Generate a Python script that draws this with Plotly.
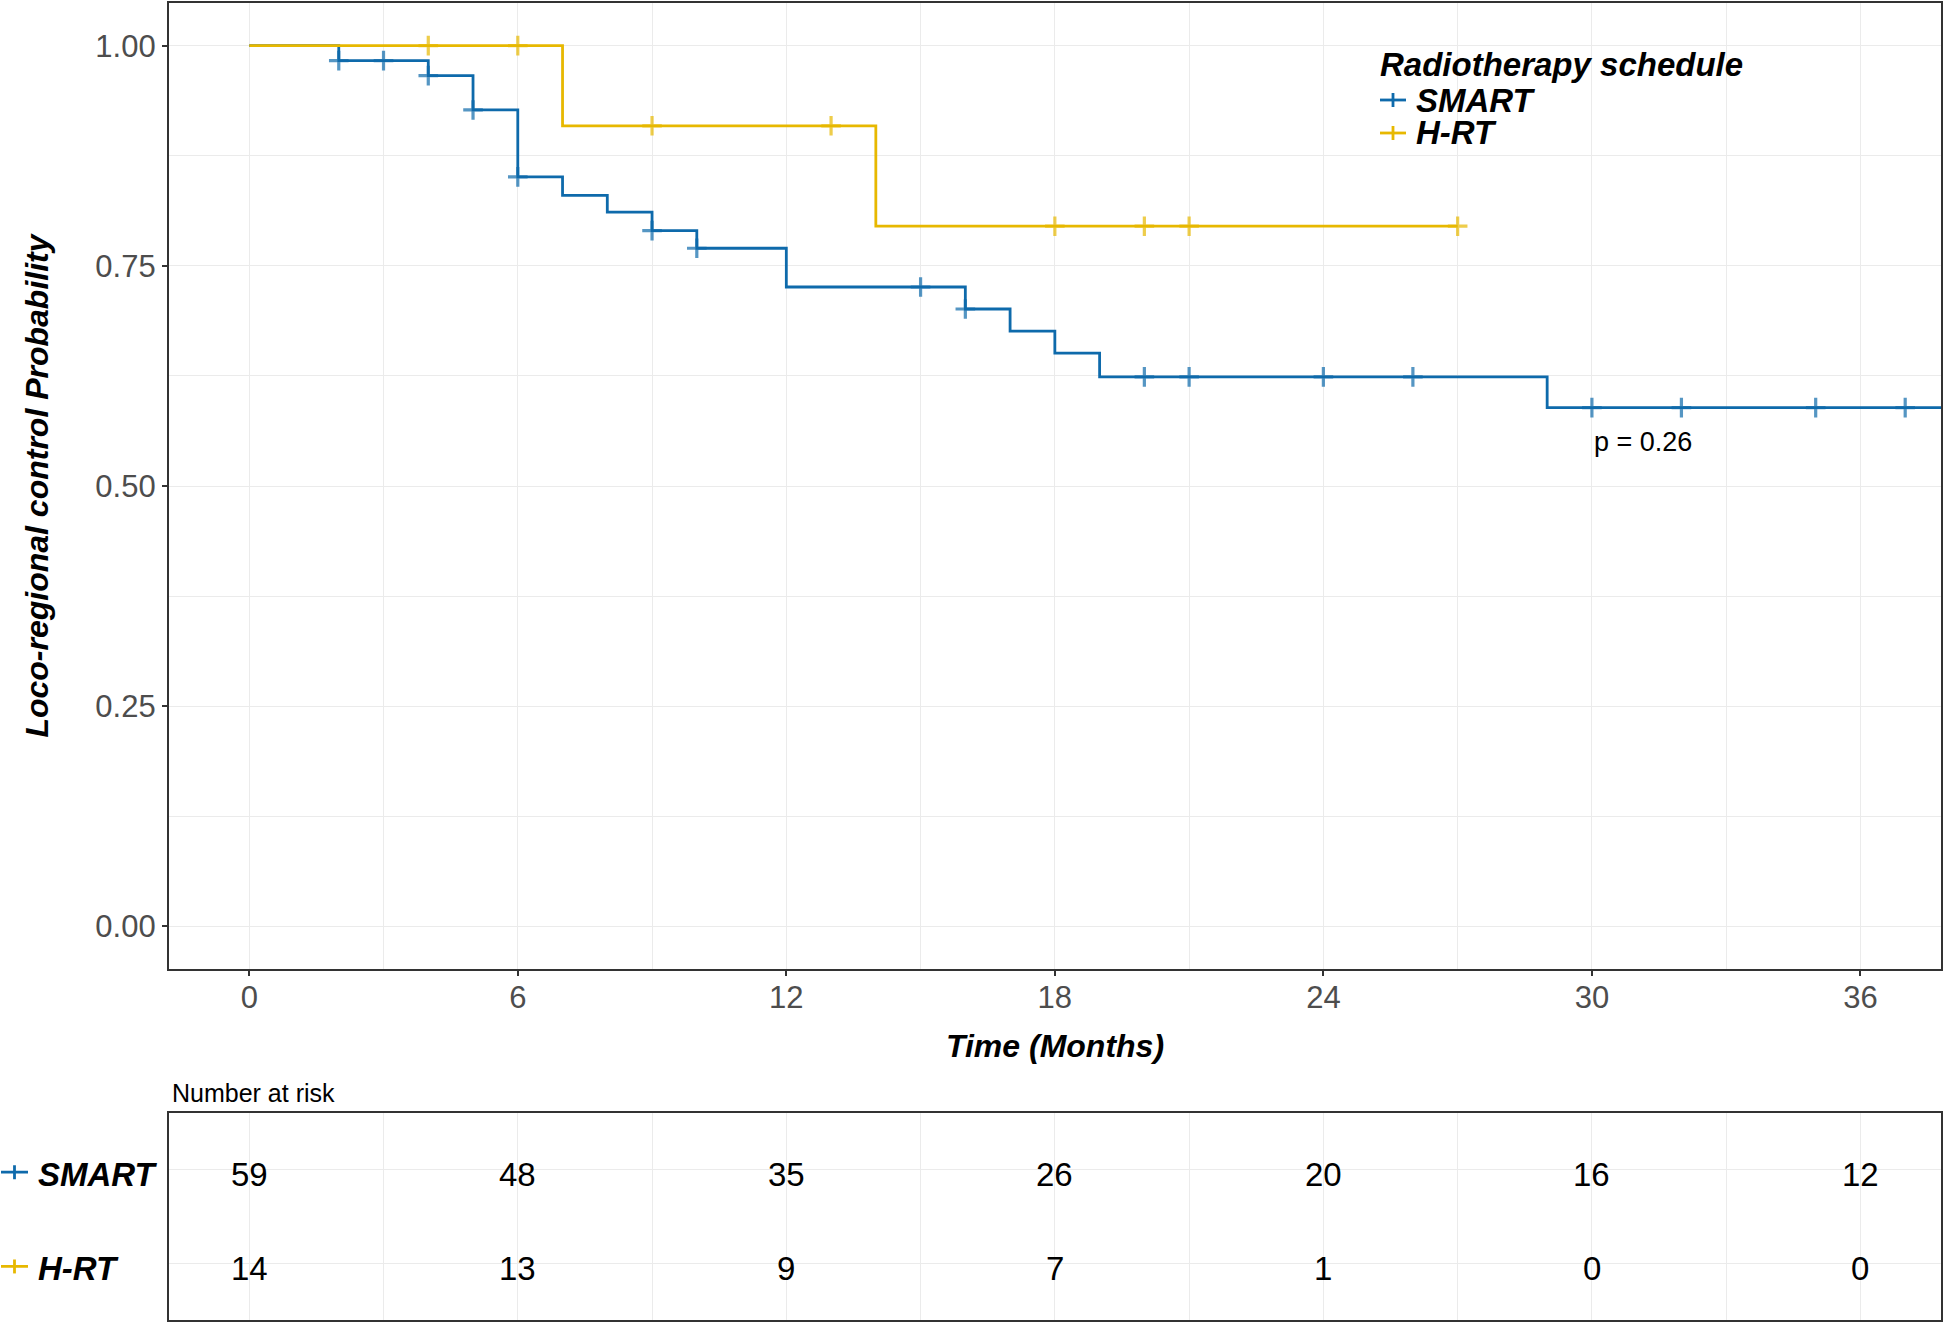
import plotly.graph_objects as go

# ---------------- data ----------------
groups = ["SMART", "H-RT"]
colors = {"SMART": "#0E6AAB", "H-RT": "#E7B800"}
legend_title = "Radiotherapy schedule"

# Kaplan-Meier steps: time (months), survival, censored flag (1 = censor mark)
smart_time = [0, 2, 3, 4, 5, 6, 7, 8, 9, 10, 12, 15, 16, 17, 18, 19, 20, 21, 24, 26, 29, 30, 32, 35, 37, 39]
smart_surv = [1.0, 0.983, 0.983, 0.966, 0.927, 0.851, 0.830, 0.811, 0.790, 0.770, 0.726, 0.726, 0.701,
              0.676, 0.651, 0.624, 0.624, 0.624, 0.624, 0.624, 0.589, 0.589, 0.589, 0.589, 0.589, 0.589]
smart_cens = [0, 1, 1, 1, 1, 1, 0, 0, 1, 1, 0, 1, 1, 0, 0, 0, 1, 1, 1, 1, 0, 1, 1, 1, 1, 1]

hrt_time = [0, 4, 6, 7, 9, 13, 14, 18, 20, 21, 27]
hrt_surv = [1.0, 1.0, 1.0, 0.909, 0.909, 0.909, 0.795, 0.795, 0.795, 0.795, 0.795]
hrt_cens = [0, 1, 1, 0, 1, 1, 0, 1, 1, 1, 1]

risk_times = [0, 6, 12, 18, 24, 30, 36]
smart_risk = [59, 48, 35, 26, 20, 16, 12]
hrt_risk = [14, 13, 9, 7, 1, 0, 0]

x_ticks = [0, 6, 12, 18, 24, 30, 36]
y_ticks = [0.0, 0.25, 0.5, 0.75, 1.0]
y_tick_labels = ["0.00", "0.25", "0.50", "0.75", "1.00"]
p_value_text = "p = 0.26"

# ---------------- figure ----------------
W, H = 1945, 1323
FONT = "Liberation Sans, Arial, sans-serif"
GRID = "#EBEBEB"
BORDER = "#333333"

fig = go.Figure()

series = [
    ("SMART", smart_time, smart_surv, smart_cens),
    ("H-RT", hrt_time, hrt_surv, hrt_cens),
]
for name, t, s, c in series:
    fig.add_trace(go.Scatter(
        x=t, y=s, mode="lines+markers", name=name,
        line=dict(color=colors[name], width=2.8, shape="hv"),
        marker=dict(symbol="cross-thin", size=[14 if v else 0 for v in c],
                    line=dict(color=colors[name], width=3.2)),
        xaxis="x", yaxis="y", showlegend=False, cliponaxis=True,
    ))

# invisible anchor trace so the risk-table axes exist
row_y = {"SMART": 2, "H-RT": 1}
fig.add_trace(go.Scatter(x=risk_times, y=[row_y["SMART"]] * len(risk_times), mode="markers",
                         marker=dict(opacity=0), xaxis="x2", yaxis="y2", showlegend=False,
                         hoverinfo="skip"))

# layout geometry (paper fractions)
x_left, x_right = 168.7 / W, 1941 / W
main_top, main_bot = 1 - 2.5 / H, 1 - 968.7 / H
risk_top, risk_bot = 1 - 1112.6 / H, 1 - 1320 / H

common_x = dict(
    range=[-1.8, 37.8], domain=[x_left, x_right], tickmode="array", tickvals=x_ticks,
    showgrid=True, gridcolor=GRID, gridwidth=1.3,
    minor=dict(dtick=3, tick0=0, showgrid=True, gridcolor=GRID, gridwidth=1.0),
    showline=True, mirror=True, linecolor=BORDER, linewidth=1.6,
    zeroline=False, automargin=False, fixedrange=True,
)

fig.update_layout(
    width=W, height=H,
    margin=dict(l=0, r=0, t=0, b=0),
    paper_bgcolor="white", plot_bgcolor="white",
    font=dict(family=FONT, color="black"),
    showlegend=False,
    xaxis=dict(**common_x, anchor="y", ticks="outside", ticklen=5, tickwidth=1.5, tickcolor=BORDER,
               ticklabelstandoff=-5,
               tickfont=dict(family=FONT, size=31, color="#4D4D4D"), ticktext=[str(v) for v in x_ticks]),
    yaxis=dict(range=[-0.048, 1.049], domain=[main_bot, main_top], anchor="x",
               tickmode="array", tickvals=y_ticks, ticktext=y_tick_labels,
               ticks="outside", ticklen=5, tickwidth=1.5, tickcolor=BORDER,
               tickfont=dict(family=FONT, size=31, color="#4D4D4D"),
               showgrid=True, gridcolor=GRID, gridwidth=1.3,
               minor=dict(dtick=0.125, tick0=0, showgrid=True, gridcolor=GRID, gridwidth=1.0),
               showline=True, mirror=True, linecolor=BORDER, linewidth=1.6,
               zeroline=False, automargin=False, fixedrange=True),
    xaxis2=dict(**common_x, anchor="y2", showticklabels=False, ticks=""),
    yaxis2=dict(range=[0.4, 2.6], domain=[risk_bot, risk_top], anchor="x2",
                tickmode="array", tickvals=[1, 2], showticklabels=False, ticks="",
                showgrid=True, gridcolor=GRID, gridwidth=1.3,
                showline=True, mirror=True, linecolor=BORDER, linewidth=1.6,
                zeroline=False, automargin=False, fixedrange=True),
)

annotations = [
    dict(text="<b><i>Loco-regional control Probability</i></b>", x=37 / W, y=(main_top + main_bot) / 2,
         xref="paper", yref="paper", textangle=-90, showarrow=False,
         font=dict(family=FONT, size=32, color="black"), xanchor="center", yanchor="middle"),
    dict(text="<b><i>Time (Months)</i></b>", x=(x_left + x_right) / 2, y=1 - 1045.7 / H,
         xref="paper", yref="paper", showarrow=False,
         font=dict(family=FONT, size=32, color="black"), xanchor="center", yanchor="middle"),
    dict(text="Number at risk", x=170 / W, y=1 - 1093 / H, xref="paper", yref="paper",
         showarrow=False, font=dict(family=FONT, size=25, color="black"),
         xanchor="left", yanchor="middle"),
    dict(text=p_value_text, x=30, y=0.55, xref="x", yref="y", showarrow=False,
         font=dict(family=FONT, size=27, color="black"), xanchor="left", yanchor="middle"),
    # legend title
    dict(text=f"<b><i>{legend_title}</i></b>", x=1378 / W, y=1 - 64 / H, xref="paper", yref="paper",
         showarrow=False, font=dict(family=FONT, size=33, color="black"),
         xanchor="left", yanchor="middle"),
]

# risk table numbers
for name, vals in [("SMART", smart_risk), ("H-RT", hrt_risk)]:
    for t, v in zip(risk_times, vals):
        annotations.append(dict(text=str(v), x=t, y=row_y[name], xref="x2", yref="y2",
                                showarrow=False, yshift=-5,
                                font=dict(family=FONT, size=33, color="black"),
                                xanchor="center", yanchor="middle"))

legend_rows = {"SMART": 1 - 100 / H, "H-RT": 1 - 133 / H}
for name in groups:
    # risk table row labels
    annotations.append(dict(text=f"<b><i>{name}</i></b>", x=36 / W, y=row_y[name], xref="paper", yref="y2",
                            showarrow=False, yshift=-5, font=dict(family=FONT, size=33, color="black"),
                            xanchor="left", yanchor="middle"))
    # legend entries
    annotations.append(dict(text=f"<b><i>{name}</i></b>", x=1414 / W, y=legend_rows[name],
                            xref="paper", yref="paper", showarrow=False,
                            font=dict(family=FONT, size=33, color="black"),
                            xanchor="left", yanchor="middle"))
fig.update_layout(annotations=annotations)

shapes = [
    # legend background box (covers grid lines like the original)
    dict(type="rect", xref="paper", yref="paper", x0=1366 / W, x1=1802 / W,
         y0=1 - 156 / H, y1=1 - 43 / H, fillcolor="white", line=dict(width=0), layer="below"),
]
for name in groups:
    # risk-table key glyphs (line with a cross)
    shapes.append(dict(type="line", xref="paper", yref="y2", ysizemode="pixel", yanchor=row_y[name],
                       x0=1 / W, x1=28 / W, y0=-3, y1=-3, line=dict(color=colors[name], width=2.8)))
    shapes.append(dict(type="line", xref="paper", yref="y2", ysizemode="pixel", yanchor=row_y[name],
                       x0=14.5 / W, x1=14.5 / W, y0=-10, y1=4, line=dict(color=colors[name], width=2.8)))
    # legend key glyphs
    ly = legend_rows[name]
    shapes.append(dict(type="line", xref="paper", yref="paper", x0=1380 / W, x1=1406 / W,
                       y0=ly, y1=ly, line=dict(color=colors[name], width=2.8)))
    shapes.append(dict(type="line", xref="paper", yref="paper", ysizemode="pixel", yanchor=ly,
                       x0=1393 / W, x1=1393 / W, y0=-7, y1=7, line=dict(color=colors[name], width=2.8)))
fig.update_layout(shapes=shapes)

# remove the default page margin so the figure fills the window exactly
fig.write_html("out.html", config={"displayModeBar": False},
               post_script="document.body.style.margin='0';document.body.style.overflow='hidden';")
